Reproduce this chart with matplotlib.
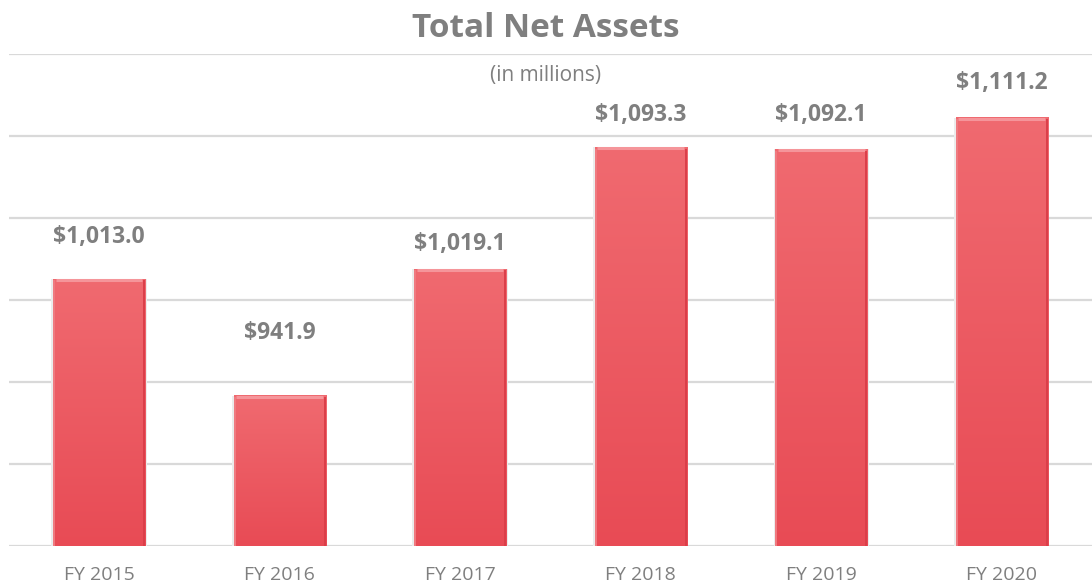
import matplotlib
matplotlib.use('Agg')
import matplotlib.pyplot as plt
import numpy as np
from matplotlib.colors import LinearSegmentedColormap

years = ['FY 2015', 'FY 2016', 'FY 2017', 'FY 2018', 'FY 2019', 'FY 2020']
net_assets = [1013.0, 941.9, 1019.1, 1093.3, 1092.1, 1111.2]
value_labels = ['$1,013.0', '$941.9', '$1,019.1', '$1,093.3', '$1,092.1', '$1,111.2']

# distance from bar top to label centre, in points (as laid out in the original)
label_gap = [30, 45, 18, 23, 24, 25]

plt.rcParams['font.family'] = ['Open Sans', 'DejaVu Sans']
grey = '#7f7f7f'
base = 850


def main():
    fig = plt.figure(figsize=(10.92, 5.88), dpi=100)
    ax = fig.add_axes([0.008, 0.071, 0.992, 0.838])

    ax.set_yticks(np.arange(850, 1151, 50))
    ax.yaxis.grid(True, color='#d9d9d9', linewidth=1.6)
    ax.set_axisbelow(True)
    ax.tick_params(axis='y', left=False, labelleft=False)
    ax.tick_params(axis='x', bottom=False, labelsize=14, labelcolor=grey, pad=11)
    for s in ax.spines.values():
        s.set_visible(False)

    x = np.arange(len(years))
    heights = [v - base for v in net_assets]

    cmap = LinearSegmentedColormap.from_list('bar', ['#e84b55', '#f06a70'])
    grad = np.linspace(0, 1, 256).reshape(-1, 1)
    width = 0.51
    bars = ax.bar(x, heights, width=width, bottom=base, color='none',
                  edgecolor='none', zorder=2)
    for b in bars:
        x0, y0 = b.get_x(), b.get_y()
        w, h = b.get_width(), b.get_height()
        # soft shadow
        ax.bar(x0 + w / 2, h + 1, width=w * 1.035, bottom=y0 - 1.5,
               color='#ececec', edgecolor='none', zorder=1.5)
        im = ax.imshow(grad, cmap=cmap, origin='lower', aspect='auto',
                       extent=[x0, x0 + w, y0, y0 + h], zorder=2)
        im.set_clip_path(b)
        # bevel highlights
        ax.plot([x0 + 0.015, x0 + w - 0.015], [y0 + h - 1.0, y0 + h - 1.0],
                color='#f5959a', linewidth=2.2, zorder=3, solid_capstyle='butt')
        ax.plot([x0 + 0.006, x0 + 0.006], [y0, y0 + h - 1.8],
                color='#f07b81', linewidth=1.4, zorder=3)
        ax.plot([x0 + w - 0.006, x0 + w - 0.006], [y0, y0 + h - 1.8],
                color='#db3e49', linewidth=1.4, zorder=3)

    ax.set_xlim(-0.5, len(years) - 0.5)
    ax.set_ylim(850, 1150)
    ax.set_xticks(x)
    ax.set_xticklabels(years)

    for xi, v, lab, gap in zip(x, net_assets, value_labels, label_gap):
        ax.annotate(lab, (xi, v), xytext=(0, gap), textcoords='offset points',
                    ha='center', va='center', fontsize=16.5, fontweight='bold',
                    color=grey)

    fig.text(0.5, 0.952, 'Total Net Assets', ha='center', va='center',
             fontsize=24, fontweight='bold', color=grey)
    fig.text(0.5, 0.871, '(in millions)', ha='center', va='center',
             fontsize=15, color=grey)

    fig.savefig('out.png', dpi=100, facecolor='white')


if __name__ == '__main__':
    main()
